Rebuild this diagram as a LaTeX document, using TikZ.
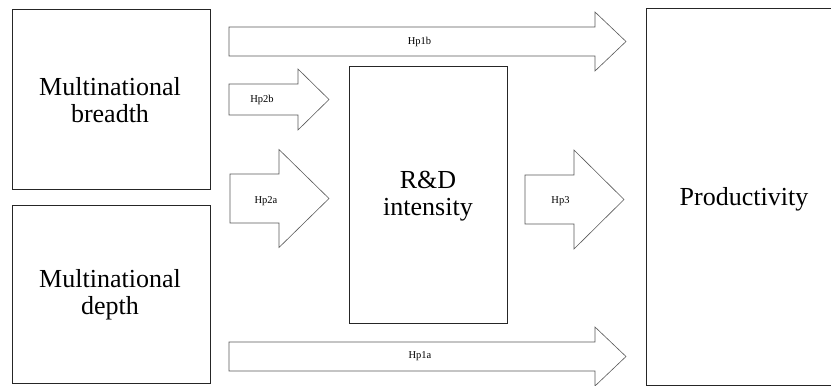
\documentclass[tikz,border=0pt]{standalone}
\usepackage{fontspec}
\setmainfont{Liberation Serif}
\begin{document}
\begin{tikzpicture}[x=1pt,y=-1pt,
  box/.style={draw=black!85,line width=0.9pt,inner sep=0pt},
  big/.style={inner sep=0pt,align=center,font=\fontsize{26}{27.5}\selectfont},
  fat/.style={draw=black!65,line width=0.6pt},
  lab/.style={inner sep=0pt,font=\fontsize{10.5}{12}\selectfont}]
\useasboundingbox (0,0) rectangle (831,386);
\clip (0,0) rectangle (831,386);
\fill[white] (0,0) rectangle (831,386);
% boxes
\node[box,minimum width=198pt,minimum height=180pt] (breadth) at (111,99) {};
\node[big] (breadthlab) at (110,100) {Multinational\\breadth};
\node[box,minimum width=198pt,minimum height=178pt] (depth) at (111,294) {};
\node[big] (depthlab) at (110,294.5) {Multinational\\depth};
\node[box,minimum width=158pt,minimum height=257pt] (rd) at (428,194.5) {};
\node[big] (rdlab) at (428,196) {R\&D\\intensity};
\node[box,minimum width=200pt,minimum height=377pt,anchor=north west] (prod) at (646,8) {};
\node[big] (prodlab) at (744,199.5) {Productivity};
% fat arrows
\newcommand{\fatarrow}[9]{%
  \draw[fat] (#1,#4-#5) -- (#2,#4-#5) -- (#2,#4-#6) -- (#3,#4) -- (#2,#4+#6)
    -- (#2,#4+#5) -- (#1,#4+#5) -- cycle;
  \node[lab] (#8) at (#9) {#7};}
\fatarrow{229}{595}{626}{41.5}{14.5}{29.5}{Hp1b}{hp1b}{419.5,42}
\fatarrow{229}{595}{626}{356.5}{14.5}{29.5}{Hp1a}{hp1a}{420,356}
\fatarrow{229}{298}{329}{99.5}{15.5}{30.5}{Hp2b}{hp2b}{262,100}
\fatarrow{230}{279}{329}{198.5}{24.5}{49}{Hp2a}{hp2a}{266,201.5}
\fatarrow{525}{574}{624}{199.5}{24.5}{49.5}{Hp3}{hp3}{560.5,201.5}
\end{tikzpicture}
\end{document}
